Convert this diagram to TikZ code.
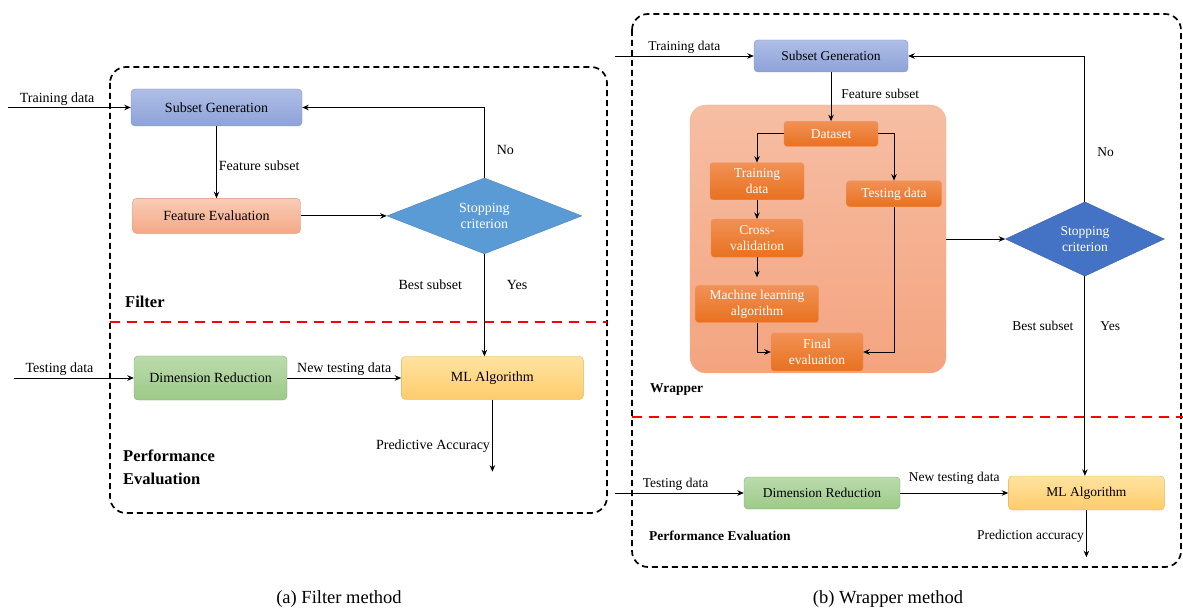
\documentclass[tikz,border=0pt]{standalone}
\usepackage{fontspec}
\setmainfont{Liberation Serif}
\usepackage{xcolor}
\usetikzlibrary{shapes.geometric, arrows.meta, positioning}

\definecolor{gentop}{HTML}{AFBEE6}
\definecolor{genbot}{HTML}{8DA2D8}
\definecolor{genline}{HTML}{7F90C4}
\definecolor{evaltop}{HTML}{F9CCB6}
\definecolor{evalbot}{HTML}{F4A886}
\definecolor{evalline}{HTML}{D99A7E}
\definecolor{redtop}{HTML}{BBDBAD}
\definecolor{redbot}{HTML}{9CCA87}
\definecolor{redline}{HTML}{86A878}
\definecolor{algtop}{HTML}{FFE3A0}
\definecolor{algbot}{HTML}{FFCC6C}
\definecolor{algline}{HTML}{E2B25C}
\definecolor{innertop}{HTML}{F19155}
\definecolor{innerbot}{HTML}{E8711F}
\definecolor{paneltop}{HTML}{F6BEA4}
\definecolor{panelbot}{HTML}{F4A47F}
\definecolor{panelline}{HTML}{F4B490}
\definecolor{diamA}{HTML}{5B9BD5}
\definecolor{diamB}{HTML}{4472C4}

\begin{document}
\begin{tikzpicture}[x=1pt, y=1pt, >={Stealth[length=6.5pt, width=5.5pt]},
		block/.style={rectangle, draw, rounded corners=4pt, inner sep=2pt, align=center, font=\fontsize{14}{16}\selectfont},
		fontB/.style={font=\fontsize{13.5}{16.5}\selectfont},
		gen/.style={block, top color=gentop, bottom color=genbot, draw=genline},
		evalbox/.style={block, top color=evaltop, bottom color=evalbot, draw=evalline},
		dimred/.style={block, top color=redtop, bottom color=redbot, draw=redline},
		algbox/.style={block, top color=algtop, bottom color=algbot, draw=algline},
		innerbox/.style={block, fontB, top color=innertop, bottom color=innerbot, draw=innertop, text=white, rounded corners=3pt},
		panelbox/.style={rectangle, top color=paneltop, bottom color=panelbot, draw=panelline, rounded corners=16pt},
		decision/.style={diamond, draw, inner sep=0pt, align=center, text=white, font=\fontsize{14}{16}\selectfont},
		txt/.style={inner sep=2pt, font=\fontsize{14}{16}\selectfont},
		txtB/.style={inner sep=2pt, fontB},
		sect/.style={inner sep=0pt, align=left, font=\bfseries\fontsize{16.5}{23}\selectfont},
		sectB/.style={inner sep=0pt, font=\bfseries\fontsize{13.5}{16}\selectfont},
		caption/.style={inner sep=0pt, font=\fontsize{18.5}{22}\selectfont},
		panelframe/.style={draw, line width=1.7pt, dash pattern=on 6pt off 4pt, rounded corners=16pt},
		cutline/.style={draw=red, line width=2.4pt, dash pattern=on 10pt off 7pt},
		line/.style={draw, ->, line width=0.9pt}]
		
		\useasboundingbox (0,0) rectangle (1183,-609);
		
		% (a) Filter
		\draw[panelframe] (110,-67) rectangle (607,-513);
		\draw[cutline] (110,-322) -- (607,-322);
		
		\node [gen, minimum width=171pt, minimum height=37pt] (sgA) at (216.5,-107.5) {Subset Generation};
		\node [evalbox, minimum width=168pt, minimum height=35pt, below=72pt of sgA] (feA) {Feature Evaluation};
		\node [decision, fill=diamA, draw=diamA!85!black, minimum width=195pt, minimum height=68pt, right=86pt of feA] (stopA) {Stopping\\criterion};
		\node [dimred, minimum width=153pt, minimum height=44pt] (drA) at (210.5,-378) {Dimension Reduction};
		\node [algbox, minimum width=182pt, minimum height=43pt, right=114pt of drA] (mlA) {ML Algorithm};
		
		\coordinate (inA) at (8,-107.5);
		\coordinate (tinA) at (14,-378);
		\coordinate [below=72pt of mlA] (outA);
		
		\node [sect, anchor=west] (filterA) at (125,-302) {Filter};
		\node [sect, anchor=west] (perfA) at (123,-467.5) {Performance\\Evaluation};
		\node [caption] (capA) at (339,-599) {(a) Filter method};
		
		\path [line] (inA) -- node [txt, above, pos=0.4] (tA) {Training data} (sgA);
		\path [line] (sgA) -- node [txt, right, pos=0.55] (fsA) {Feature subset} (feA);
		\path [line] (feA) -- (stopA);
		\path [line] (stopA.north) |- node [txt, right=10pt, pos=0.2] (noA) {No} (sgA.east);
		\path [line] (stopA.south) -- node [txt, left=20pt, pos=0.3] (bsA) {Best subset}
			node [txt, right=20pt, pos=0.3] (yesA) {Yes} (stopA.south |- mlA.north);
		\path [line] (tinA) -- node [txt, above, pos=0.38] (tdA) {Testing data} (drA);
		\path [line] (drA) -- node [txt, above] (ntA) {New testing data} (mlA);
		\path [line] (mlA) -- node [txt, left, pos=0.65] (paA) {Predictive Accuracy} (outA);
		
		% (b) Wrapper
		\draw[panelframe] (632,-14) rectangle (1181,-567);
		\draw[cutline] (632,-417) -- (1183,-417);
		
		\node [panelbox, minimum width=256pt, minimum height=268pt] (wrapB) at (818,-239) {};
		\node [gen, fontB, minimum width=154pt, minimum height=32pt] (sgB) at (831,-56) {Subset Generation};
		\node [innerbox, minimum width=94pt, minimum height=25pt, below=49pt of sgB] (dsB) {Dataset};
		\node [innerbox, minimum width=94pt, minimum height=37pt, below=16pt of dsB, xshift=-74pt] (trB) {Training\\data};
		\node [innerbox, minimum width=95pt, minimum height=26pt, below=34pt of dsB, xshift=63pt] (teB) {Testing data};
		\node [innerbox, minimum width=92pt, minimum height=38pt, below=19pt of trB] (cvB) {Cross-\\validation};
		\node [innerbox, minimum width=123pt, minimum height=37pt, below=28pt of cvB] (mlaB) {Machine learning\\algorithm};
		\node [innerbox, minimum width=92pt, minimum height=38pt, below=10pt of mlaB, xshift=60pt] (finB) {Final\\evaluation};
		\node [decision, fontB, fill=diamB, draw=diamB!85!black, minimum width=159pt, minimum height=57pt, right=59pt of wrapB] (stopB) {Stopping\\criterion};
		\node [dimred, fontB, minimum width=156pt, minimum height=32pt] (drB) at (822,-493) {Dimension Reduction};
		\node [algbox, fontB, minimum width=156pt, minimum height=34pt, right=108pt of drB] (mlB) {ML Algorithm};
		
		\coordinate (inB) at (615,-56);
		\coordinate (tinB) at (615,-493);
		\coordinate [below=47pt of mlB] (outB);
		
		\node [sectB, anchor=west] (wrapT) at (650,-390) {Wrapper};
		\node [sectB, anchor=west] (perfB) at (649,-536) {Performance Evaluation};
		\node [caption] (capB) at (888,-599) {(b) Wrapper method};
		
		\path [line] (inB) -- node [txtB, above] (tB) {Training data} (sgB);
		\path [line] (sgB) -- node [txtB, right=8pt, pos=0.45] (fsB) {Feature subset} (dsB);
		\path [line] (dsB.west) -| (trB.north);
		\path [line] (dsB.east) -| (teB.north);
		\path [line] (trB) -- (cvB);
		\path [line, shorten >=8pt] (cvB) -- (mlaB);
		\path [line] (mlaB.south) |- (finB.west);
		\path [line] (teB.south) |- (finB.east);
		\path [line] (wrapB) -- (stopB);
		\path [line] (stopB.north) |- node [txtB, right=10pt, pos=0.17] (noB) {No} (sgB.east);
		\path [line] (stopB.south) -- node [txtB, left=9pt, pos=0.25] (bsB) {Best subset}
			node [txtB, right=13pt, pos=0.25] (yesB) {Yes} (stopB.south |- mlB.north);
		\path [line] (tinB) -- node [txtB, above, pos=0.47] (tdB) {Testing data} (drB);
		\path [line] (drB) -- node [txtB, above=6pt] (ntB) {New testing data} (mlB);
		\path [line] (mlB) -- node [txtB, left, pos=0.55] (paB) {Prediction accuracy} (outB);
		
	\end{tikzpicture}
\end{document}
